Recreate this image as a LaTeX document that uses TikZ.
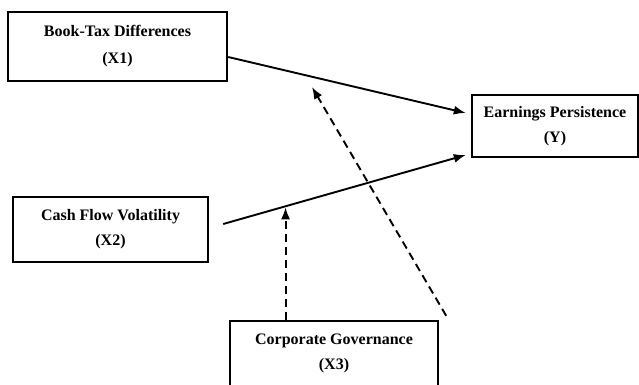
\documentclass[tikz,border=0pt]{standalone}
\usepackage{fontspec}
\setmainfont{Liberation Serif}
\usetikzlibrary{arrows.meta}
\begin{document}
\begin{tikzpicture}[x=1pt,y=-1pt,
  label text/.style={align=center, inner sep=0pt,
    font=\bfseries\fontsize{16}{25}\selectfont},
  varbox/.style={label text, draw, line width=2.4pt},
  path/.style={line width=1.9pt, -{Latex[length=12pt,width=9pt]}},
  moderator/.style={path, dash pattern=on 8pt off 5pt}]
\useasboundingbox (0,0) rectangle (639,385);
\clip (0,0) rectangle (639,385);
% variable boxes
\node[varbox, minimum width=219pt, minimum height=69pt,
  font=\bfseries\fontsize{16}{27}\selectfont] (x1) at (117.5,46.5)
  {Book-Tax Differences\\(X1)};
\node[varbox, minimum width=166pt, minimum height=62pt] (y) at (555,126)
  {Earnings Persistence\\(Y)};
\node[varbox, minimum width=195pt, minimum height=65pt] (x2) at (110.5,229.5)
  {Cash Flow Volatility\\(X2)};
\node[varbox, minimum width=208pt, minimum height=90pt] (x3) at (334,366) {};
\node[label text] (x3t) at (334,353)
  {Corporate Governance\\(X3)};
% direct effects
\draw[path] ([yshift=-10.5pt]x1.east) -- ([xshift=-5pt,yshift=13pt]y.west);
\draw[path] ([xshift=14pt,yshift=5.5pt]x2.east)
  -- coordinate[pos=0.257] (m) ([xshift=-5pt,yshift=-29pt]y.west);
% moderating effects
\coordinate (t1) at (312,87);
\draw[moderator] (x3.north -| m) -- ([yshift=-1pt]m);
\draw[moderator] ([xshift=7pt,yshift=4pt]x3.north east) -- (t1);
\end{tikzpicture}
\end{document}
